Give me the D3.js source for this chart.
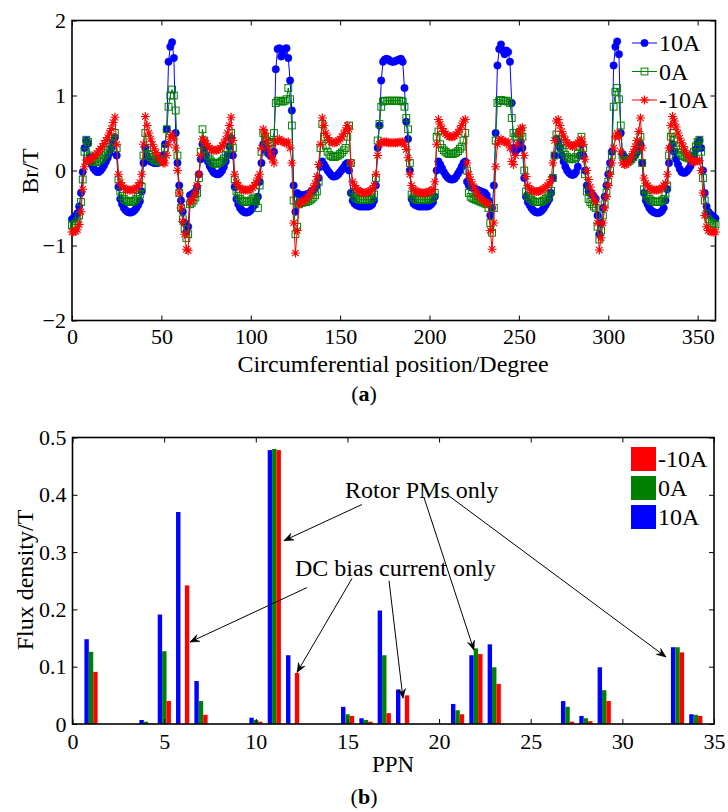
<!DOCTYPE html>
<html><head><meta charset="utf-8">
<script src="https://cdn.jsdelivr.net/npm/d3@7"></script>
<style>
body{margin:0;background:#fff}
svg{display:block}
</style>
</head><body>
<svg id="c" width="728" height="812" style="font-family:'Liberation Serif','Times New Roman',serif"></svg>
<script>
// ---------- Chart (a) data: Br vs circumferential position (1 degree steps) ----------
const angles = d3.range(0, 361, 1);
const br10A = [
-0.65,-0.63,-0.61,-0.57,-0.48,-0.30,-0.02,0.30,0.40,0.36,
0.18,0.08,0.03,0.00,-0.02,-0.02,0.00,0.03,0.07,0.12,
0.17,0.23,0.30,0.38,0.44,0.20,-0.22,-0.38,-0.45,-0.50,
-0.53,-0.55,-0.56,-0.56,-0.55,-0.53,-0.50,-0.46,-0.41,-0.28,
0.10,0.30,0.20,0.15,0.12,0.11,0.10,0.10,0.10,0.11,
0.13,0.20,0.35,0.55,1.45,1.65,1.71,1.50,0.50,0.10,
-0.20,-0.40,-0.55,-0.70,-0.82,-0.75,-0.33,-0.32,-0.30,-0.28,
-0.22,-0.05,0.15,0.35,0.28,0.20,0.12,0.06,0.02,-0.02,
-0.04,-0.05,-0.05,-0.03,0.00,0.05,0.12,0.20,0.32,0.43,
0.20,-0.22,-0.38,-0.45,-0.50,-0.53,-0.55,-0.56,-0.56,-0.55,
-0.53,-0.50,-0.46,-0.41,-0.35,-0.15,0.10,0.35,0.30,0.25,
0.22,0.20,0.20,0.25,1.35,1.62,1.63,1.52,1.55,1.62,
1.63,1.50,1.20,0.80,-0.20,-0.55,-0.30,-0.32,-0.33,-0.33,
-0.33,-0.32,-0.31,-0.30,-0.28,-0.26,-0.24,-0.20,-0.10,0.05,
0.12,0.08,0.04,0.00,-0.03,-0.06,-0.08,-0.08,-0.07,-0.05,
-0.02,0.01,0.04,0.08,0.10,0.00,-0.30,-0.40,-0.44,-0.46,
-0.47,-0.48,-0.48,-0.48,-0.48,-0.48,-0.48,-0.47,-0.45,-0.40,
-0.20,0.30,0.60,1.20,1.45,1.48,1.49,1.48,1.46,1.45,
1.45,1.46,1.47,1.48,1.49,1.45,1.10,0.65,0.42,0.00,
-0.38,-0.44,-0.46,-0.47,-0.48,-0.48,-0.48,-0.48,-0.48,-0.48,
-0.47,-0.45,-0.42,-0.35,0.00,0.12,0.08,0.03,-0.02,-0.06,
-0.09,-0.11,-0.12,-0.12,-0.11,-0.08,-0.04,0.00,0.05,0.10,
0.12,-0.15,-0.20,-0.22,-0.23,-0.24,-0.25,-0.26,-0.27,-0.28,
-0.29,-0.30,-0.33,-0.40,-0.60,-0.50,-0.20,0.50,1.40,1.62,
1.68,1.60,1.55,1.60,1.58,1.45,0.90,0.30,0.25,0.28,
0.32,0.38,0.30,-0.10,-0.35,-0.42,-0.46,-0.50,-0.53,-0.55,
-0.56,-0.56,-0.55,-0.53,-0.50,-0.46,-0.42,-0.38,-0.30,-0.10,
0.20,0.42,0.38,0.30,0.20,0.12,0.05,0.00,-0.03,-0.05,
-0.06,-0.05,-0.02,0.05,0.20,0.35,0.20,0.00,-0.20,-0.28,
-0.30,-0.32,-0.35,-0.38,-0.60,-0.85,-0.70,-0.50,-0.35,-0.20,
-0.05,0.10,0.25,1.40,1.65,1.72,1.55,0.50,0.22,0.18,
0.16,0.15,0.15,0.16,0.18,0.20,0.24,0.30,0.35,0.10,
-0.30,-0.40,-0.45,-0.50,-0.53,-0.55,-0.56,-0.57,-0.57,-0.56,
-0.54,-0.50,-0.40,-0.25,0.10,0.30,0.35,0.25,0.15,0.08,
0.02,-0.02,-0.03,-0.03,-0.01,0.02,0.06,0.12,0.20,0.28,
0.36,0.40,0.30,0.00,-0.30,-0.48,-0.55,-0.58,-0.60,-0.62,-0.64
];
const br0A = [
-0.73,-0.72,-0.71,-0.68,-0.60,-0.42,-0.12,0.25,0.41,0.38,
0.20,0.13,0.11,0.11,0.12,0.13,0.15,0.17,0.20,0.23,
0.27,0.31,0.37,0.44,0.50,0.30,-0.12,-0.28,-0.34,-0.38,
-0.40,-0.41,-0.42,-0.42,-0.41,-0.40,-0.38,-0.35,-0.32,-0.22,
0.20,0.50,0.30,0.22,0.18,0.16,0.14,0.13,0.12,0.12,
0.12,0.15,0.30,0.55,0.85,1.00,1.08,1.00,0.80,0.20,
-0.30,-0.50,-0.65,-0.78,-0.90,-0.85,-0.45,-0.43,-0.40,-0.36,
-0.30,-0.10,0.25,0.55,0.40,0.28,0.20,0.15,0.12,0.10,
0.09,0.09,0.10,0.11,0.13,0.16,0.21,0.28,0.38,0.50,
0.30,-0.12,-0.28,-0.34,-0.38,-0.40,-0.41,-0.42,-0.42,-0.41,
-0.40,-0.38,-0.36,-0.40,-0.50,-0.20,0.25,0.50,0.45,0.40,
0.37,0.36,0.38,0.50,0.90,0.93,0.93,0.92,0.92,0.93,
0.95,1.10,0.95,0.60,-0.40,-0.85,-0.75,-0.45,-0.43,-0.43,
-0.42,-0.42,-0.41,-0.40,-0.38,-0.36,-0.33,-0.28,-0.15,0.30,
0.62,0.45,0.33,0.25,0.21,0.19,0.18,0.18,0.19,0.20,
0.22,0.24,0.27,0.30,0.45,0.60,0.10,-0.30,-0.35,-0.37,
-0.38,-0.39,-0.39,-0.39,-0.39,-0.39,-0.39,-0.38,-0.36,-0.32,
-0.10,0.40,0.62,0.85,0.92,0.93,0.93,0.93,0.93,0.93,
0.93,0.93,0.93,0.93,0.93,0.92,0.85,0.70,0.55,0.10,
-0.32,-0.36,-0.38,-0.39,-0.39,-0.39,-0.39,-0.39,-0.39,-0.39,
-0.38,-0.37,-0.36,-0.30,0.45,0.52,0.35,0.30,0.27,0.25,
0.23,0.22,0.22,0.22,0.23,0.24,0.26,0.29,0.32,0.40,
0.50,0.00,-0.30,-0.35,-0.37,-0.38,-0.39,-0.40,-0.41,-0.42,
-0.43,-0.44,-0.45,-0.50,-0.70,-0.83,-0.50,0.40,0.90,0.93,
0.94,0.93,0.93,0.93,0.92,0.90,0.70,0.50,0.45,0.45,
0.48,0.50,0.45,0.00,-0.28,-0.34,-0.37,-0.39,-0.41,-0.42,
-0.42,-0.42,-0.42,-0.41,-0.40,-0.38,-0.36,-0.33,-0.27,-0.10,
0.20,0.48,0.42,0.36,0.30,0.25,0.21,0.18,0.16,0.15,
0.15,0.16,0.18,0.22,0.32,0.45,0.30,-0.05,-0.28,-0.38,
-0.42,-0.45,-0.48,-0.50,-0.75,-0.92,-0.80,-0.60,-0.45,-0.30,
-0.15,0.00,0.20,0.85,1.05,1.10,0.95,0.60,0.20,0.14,
0.12,0.12,0.13,0.15,0.18,0.22,0.28,0.36,0.45,0.10,
-0.25,-0.32,-0.35,-0.38,-0.40,-0.41,-0.42,-0.42,-0.42,-0.41,
-0.40,-0.38,-0.32,-0.20,0.20,0.45,0.50,0.40,0.33,0.28,
0.24,0.21,0.19,0.18,0.17,0.16,0.17,0.20,0.25,0.32,
0.38,0.41,0.25,-0.10,-0.40,-0.58,-0.65,-0.68,-0.70,-0.71,-0.72
];
const brNeg10A = [
-0.82,-0.82,-0.81,-0.79,-0.72,-0.55,-0.25,0.05,0.14,0.13,
0.14,0.16,0.18,0.20,0.23,0.26,0.29,0.32,0.36,0.40,
0.44,0.50,0.56,0.64,0.71,0.35,-0.05,-0.16,-0.20,-0.23,
-0.25,-0.26,-0.26,-0.26,-0.26,-0.25,-0.23,-0.20,-0.16,-0.05,
0.35,0.72,0.60,0.50,0.42,0.35,0.29,0.24,0.20,0.16,
0.13,0.10,0.10,0.20,0.35,0.45,0.48,0.42,0.30,0.00,
-0.30,-0.50,-0.68,-0.85,-1.05,-1.07,-0.42,-0.40,-0.36,-0.30,
-0.20,-0.05,0.20,0.42,0.40,0.36,0.33,0.30,0.28,0.27,
0.27,0.27,0.28,0.30,0.33,0.37,0.42,0.50,0.60,0.71,
0.40,-0.05,-0.16,-0.20,-0.23,-0.25,-0.26,-0.26,-0.26,-0.26,
-0.25,-0.23,-0.20,-0.16,-0.10,-0.05,0.30,0.55,0.50,0.40,
0.30,0.22,0.15,0.10,0.38,0.40,0.42,0.40,0.38,0.37,
0.37,0.38,0.30,0.10,-0.70,-1.10,-0.80,-0.45,-0.42,-0.41,
-0.40,-0.38,-0.35,-0.32,-0.28,-0.23,-0.17,-0.08,0.08,0.35,
0.70,0.60,0.50,0.44,0.40,0.38,0.37,0.37,0.38,0.40,
0.42,0.45,0.49,0.54,0.60,0.55,0.10,-0.15,-0.20,-0.24,
-0.26,-0.28,-0.29,-0.30,-0.30,-0.29,-0.28,-0.27,-0.25,-0.20,
-0.05,0.20,0.35,0.37,0.38,0.38,0.38,0.37,0.37,0.37,
0.37,0.37,0.37,0.38,0.38,0.38,0.35,0.28,0.17,-0.05,
-0.20,-0.25,-0.27,-0.28,-0.29,-0.30,-0.30,-0.30,-0.29,-0.29,
-0.28,-0.27,-0.25,-0.15,0.35,0.68,0.62,0.56,0.52,0.49,
0.47,0.45,0.45,0.45,0.46,0.48,0.51,0.55,0.60,0.66,
0.68,0.10,-0.05,-0.12,-0.18,-0.23,-0.28,-0.32,-0.35,-0.38,
-0.40,-0.42,-0.43,-0.45,-0.80,-1.05,-0.70,0.05,0.35,0.40,
0.42,0.40,0.38,0.37,0.38,0.30,0.12,0.08,0.20,0.35,
0.50,0.56,0.57,0.20,-0.08,-0.20,-0.25,-0.26,-0.27,-0.28,
-0.28,-0.28,-0.27,-0.26,-0.24,-0.22,-0.20,-0.17,-0.12,0.10,
0.40,0.66,0.68,0.60,0.52,0.46,0.41,0.37,0.35,0.33,
0.32,0.33,0.35,0.37,0.40,0.42,0.35,0.15,0.00,-0.12,
-0.22,-0.30,-0.37,-0.42,-0.70,-1.06,-0.90,-0.70,-0.50,-0.35,
-0.20,-0.05,0.10,0.30,0.45,0.50,0.45,0.25,0.10,0.08,
0.08,0.10,0.14,0.19,0.25,0.32,0.40,0.52,0.70,0.30,
-0.10,-0.17,-0.20,-0.23,-0.25,-0.26,-0.26,-0.26,-0.26,-0.25,
-0.23,-0.20,-0.17,-0.05,0.30,0.60,0.72,0.66,0.58,0.50,
0.43,0.37,0.32,0.27,0.22,0.18,0.14,0.12,0.12,0.12,
0.13,0.13,0.00,-0.30,-0.60,-0.75,-0.80,-0.81,-0.82,-0.82,-0.82
];
const seriesNamesA = ["10A", "0A", "-10A"];
const xTicksA = [0, 50, 100, 150, 200, 250, 300, 350];
const yTicksA = [-2, -1, 0, 1, 2];

// ---------- Chart (b) data: harmonic spectrum ----------
const ppn = [1, 4, 5, 6, 7, 10, 11, 12, 15, 16, 17, 18, 21, 22, 23, 27, 28, 29, 33, 34];
const flux10A    = [0.148, 0.007, 0.191, 0.370, 0.075, 0.011, 0.478, 0.120, 0.030, 0.010, 0.198, 0.060, 0.035, 0.120, 0.139, 0.040, 0.014, 0.099, 0.134, 0.017];
const flux0A     = [0.126, 0.004, 0.127, 0.000, 0.040, 0.007, 0.480, 0.000, 0.017, 0.007, 0.120, 0.000, 0.024, 0.132, 0.099, 0.030, 0.010, 0.059, 0.134, 0.016];
const fluxNeg10A = [0.091, 0.001, 0.040, 0.242, 0.016, 0.004, 0.478, 0.089, 0.014, 0.004, 0.019, 0.050, 0.017, 0.122, 0.070, 0.004, 0.005, 0.040, 0.125, 0.014];
const seriesNamesB = ["-10A", "0A", "10A"];
const xTicksB = [0, 5, 10, 15, 20, 25, 30, 35];
const yTicksB = [0, 0.1, 0.2, 0.3, 0.4, 0.5];
// annotation text anchors and arrows, in data units (PPN, T)
const annoTexts = [
  {text: "Rotor PMs only", x: 14.87, y: 0.395},
  {text: "DC bias current only", x: 12.14, y: 0.259}
];
const annoArrows = [
  {x1: 15.79, y1: 0.383, x2: 11.54, y2: 0.320},
  {x1: 19.18, y1: 0.395, x2: 21.90, y2: 0.129},
  {x1: 20.54, y1: 0.398, x2: 32.38, y2: 0.117},
  {x1: 12.79, y1: 0.238, x2: 6.41,  y2: 0.143},
  {x1: 15.25, y1: 0.254, x2: 12.25, y2: 0.090},
  {x1: 17.27, y1: 0.250, x2: 18.03, y2: 0.045}
];

const FONT = "'Liberation Serif','Times New Roman',serif";
const colorsA = {"10A": "#0000ff", "0A": "#008000", "-10A": "#ff0000"};

const svg = d3.select("#c");
function label(g, txt, fs) {
  return g.append("text").style("font-family", FONT).attr("font-size", fs).attr("fill", "#000").text(txt);
}

// =================== Chart (a) ===================
const xA = d3.scaleLinear().domain([0, 360]).range([72, 715.5]);
const yA = d3.scaleLinear().domain([-2, 2]).range([320.5, 20.5]);
const gA = svg.append("g");

function innerAxes(g, x, y, xt, yt, xfmt, yfmt, fs, xpad) {
  const [x0, x1] = x.range(), [y0, y1] = y.range();
  g.append("g").attr("transform", `translate(0,${y0})`)
    .call(d3.axisBottom(x).tickValues(xt).tickSize(-5).tickPadding(xpad).tickFormat(xfmt))
    .call(s => { s.select(".domain").remove(); s.attr("font-family", null);
      s.selectAll("text").attr("font-size", fs).style("font-family", FONT).attr("fill", "#000"); });
  g.append("g").attr("transform", `translate(0,${y1})`)
    .call(d3.axisTop(x).tickValues(xt).tickSize(-5).tickFormat(""))
    .call(s => s.select(".domain").remove());
  g.append("g").attr("transform", `translate(${x0},0)`)
    .call(d3.axisLeft(y).tickValues(yt).tickSize(-5).tickPadding(6).tickFormat(yfmt))
    .call(s => { s.select(".domain").remove(); s.attr("font-family", null);
      s.selectAll("text").attr("font-size", fs).style("font-family", FONT).attr("fill", "#000"); });
  g.append("g").attr("transform", `translate(${x1},0)`)
    .call(d3.axisRight(y).tickValues(yt).tickSize(-5).tickFormat(""))
    .call(s => s.select(".domain").remove());
  g.append("rect").attr("x", x0).attr("y", y1).attr("width", x1 - x0).attr("height", y0 - y1)
    .attr("fill", "none").attr("stroke", "#000").attr("stroke-width", 1.6);
}

innerAxes(gA, xA, yA, xTicksA, yTicksA, d3.format("d"), d3.format("d"), 22, 8);

const seriesA = [
  {name: "10A", values: br10A},
  {name: "0A", values: br0A},
  {name: "-10A", values: brNeg10A}
];

function drawMarker(sel, name, color) {
  if (name === "10A") {
    sel.append("circle").attr("r", 3.7).attr("fill", color).attr("stroke", color).attr("stroke-width", 0.5);
  } else if (name === "0A") {
    sel.append("rect").attr("x", -3.4).attr("y", -3.4).attr("width", 6.8).attr("height", 6.8)
      .attr("fill", "none").attr("stroke", color).attr("stroke-width", 1);
  } else {
    sel.append("path").attr("d", "M-4.5,0H4.5M0,-4.5V4.5M-3.2,-3.2L3.2,3.2M-3.2,3.2L3.2,-3.2")
      .attr("fill", "none").attr("stroke", color).attr("stroke-width", 1.2);
  }
}

const lineA = d3.line().x((d, i) => xA(angles[i])).y(d => yA(d));
seriesA.forEach(s => {
  const c = colorsA[s.name];
  const vals = s.values.slice(0, angles.length);
  gA.append("path").attr("d", lineA(vals)).attr("fill", "none").attr("stroke", c).attr("stroke-width", 1);
  const mk = gA.append("g").selectAll("g").data(vals).join("g")
    .attr("transform", (d, i) => `translate(${xA(angles[i])},${yA(d)})`);
  mk.each(function () { drawMarker(d3.select(this), s.name, c); });
});

// legend (a)
const legA = gA.append("g");
seriesNamesA.forEach((n, i) => {
  const yy = 43 + i * 28.5;
  const c = colorsA[n];
  legA.append("line").attr("x1", 632).attr("x2", 657).attr("y1", yy).attr("y2", yy).attr("stroke", c).attr("stroke-width", 1);
  const m = legA.append("g").attr("transform", `translate(644.5,${yy})`);
  drawMarker(m, n, c);
  label(legA, n, 24).attr("x", 659).attr("y", yy).attr("dy", "0.35em");
});

label(gA, "Circumferential position/Degree", 24).attr("x", 393).attr("y", 372).attr("text-anchor", "middle");
label(gA, "Br/T", 24).attr("transform", "translate(38,171) rotate(-90)").attr("text-anchor", "middle");
const capA = label(gA, "", 22).attr("x", 364).attr("y", 401).attr("text-anchor", "middle");
capA.append("tspan").text("(");
capA.append("tspan").attr("font-weight", "bold").text("a");
capA.append("tspan").text(")");

// =================== Chart (b) ===================
const xB = d3.scaleLinear().domain([0, 35]).range([72.5, 714]);
const yB = d3.scaleLinear().domain([0, 0.5]).range([724, 437.5]);
const gB = svg.append("g");

const colorsB = {"-10A": "#ff0000", "0A": "#008000", "10A": "#0000ff"};
const barSeries = [
  {name: "10A", values: flux10A, off: -0.35},
  {name: "0A", values: flux0A, off: -0.11},
  {name: "-10A", values: fluxNeg10A, off: 0.13}
];
const barW = 0.24;
barSeries.forEach(s => {
  gB.append("g").selectAll("rect").data(ppn).join("rect")
    .attr("x", (d) => xB(d + s.off))
    .attr("width", xB(barW) - xB(0))
    .attr("y", (d, i) => yB(s.values[i]))
    .attr("height", (d, i) => yB(0) - yB(s.values[i]))
    .attr("fill", colorsB[s.name]);
});

innerAxes(gB, xB, yB, xTicksB, yTicksB, d3.format("d"), d => d === 0 ? "0" : d3.format(".1f")(d), 22, 9);

// annotations
const arrowG = gB.append("g");
annoArrows.forEach(a => {
  const X1 = xB(a.x1), Y1 = yB(a.y1), X2 = xB(a.x2), Y2 = yB(a.y2);
  arrowG.append("line").attr("x1", X1).attr("y1", Y1).attr("x2", X2).attr("y2", Y2)
    .attr("stroke", "#000").attr("stroke-width", 1);
  const ang = Math.atan2(Y2 - Y1, X2 - X1);
  const L = 10, w = 0.38;
  const p1 = [X2 - L * Math.cos(ang - w), Y2 - L * Math.sin(ang - w)];
  const p2 = [X2 - L * Math.cos(ang + w), Y2 - L * Math.sin(ang + w)];
  const pm = [X2 - 0.6 * L * Math.cos(ang), Y2 - 0.6 * L * Math.sin(ang)];
  arrowG.append("path").attr("d", `M${p1}L${X2},${Y2}L${p2}L${pm}Z`)
    .attr("fill", "#000").attr("stroke", "#000").attr("stroke-width", 0.6);
});
annoTexts.forEach(t => {
  label(gB, t.text, 24).attr("x", xB(t.x)).attr("y", yB(t.y));
});

// legend (b)
seriesNamesB.forEach((n, i) => {
  const yy = 447 + i * 29;
  gB.append("rect").attr("x", 631).attr("y", yy).attr("width", 25).attr("height", 24).attr("fill", colorsB[n]);
  label(gB, n, 24).attr("x", 658).attr("y", yy + 12).attr("dy", "0.35em");
});

label(gB, "PPN", 23).attr("x", 393).attr("y", 772).attr("text-anchor", "middle");
label(gB, "Flux density/T", 24).attr("transform", "translate(33,580) rotate(-90)").attr("text-anchor", "middle");
const capB = label(gB, "", 22).attr("x", 364).attr("y", 804).attr("text-anchor", "middle");
capB.append("tspan").text("(");
capB.append("tspan").attr("font-weight", "bold").text("b");
capB.append("tspan").text(")");
</script>
</body></html>
